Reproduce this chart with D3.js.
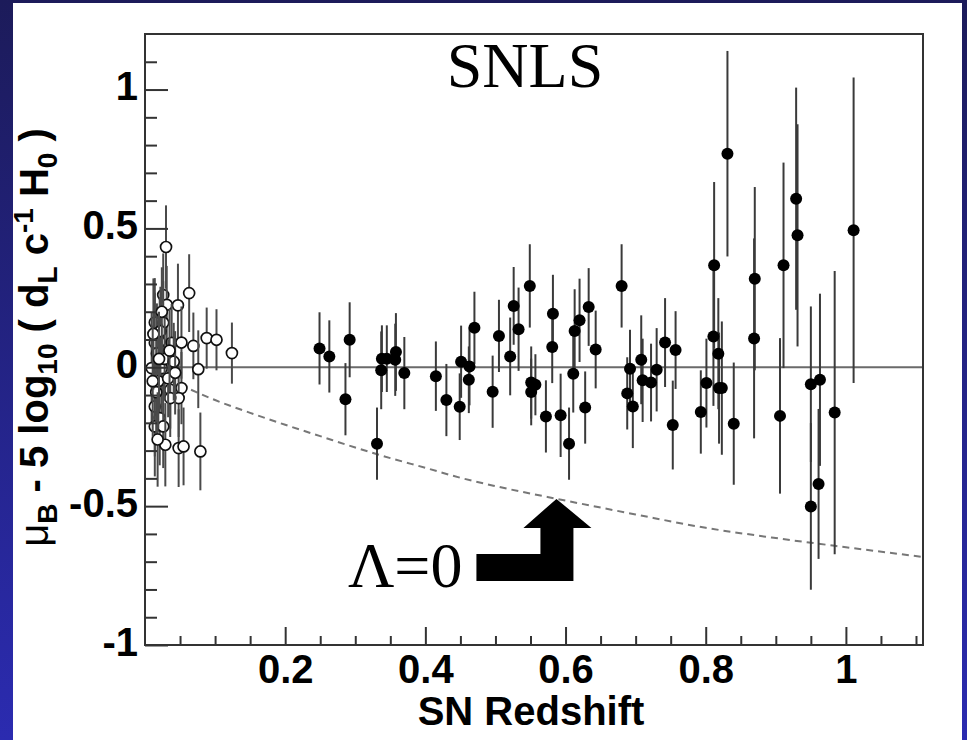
<!DOCTYPE html>
<html>
<head>
<meta charset="utf-8">
<script src="https://cdn.jsdelivr.net/npm/d3@7"></script>
<style>
  html, body { margin: 0; padding: 0; background: #fff; }
  svg { display: block; }
</style>
</head>
<body>
<svg id="chart" width="967" height="740"></svg>
<script>
// ---------- data ----------
// Low-redshift (nearby) supernovae, open circles
const lowZ   = [0.030, 0.063, 0.026, 0.047, 0.031, 0.014, 0.026, 0.021, 0.014, 0.038,
                0.052, 0.069, 0.088, 0.102, 0.124, 0.076, 0.0095, 0.024, 0.036, 0.052,
                0.048, 0.036, 0.014, 0.021, 0.014, 0.026, 0.029, 0.048, 0.055, 0.079,
                0.017, 0.019, 0.022, 0.016, 0.028, 0.033, 0.041, 0.012, 0.018, 0.024,
                0.043, 0.011, 0.020, 0.035];
const lowV   = [0.433, 0.267, 0.260, 0.223, 0.225, 0.161, 0.160, 0.092, 0.088, 0.088,
                0.089, 0.077, 0.105, 0.099, 0.051, -0.007, -0.003, -0.003, -0.081, -0.075,
                -0.111, -0.111, -0.141, -0.183, -0.213, -0.213, -0.279, -0.291, -0.285, -0.303,
                0.05, -0.05, 0.13, -0.09, 0.03, -0.04, 0.02, 0.12, -0.26, 0.20,
                -0.02, -0.05, 0.03, 0.06];
const lowErr = [0.15, 0.14, 0.15, 0.15, 0.14, 0.16, 0.15, 0.16, 0.18, 0.14,
                0.13, 0.12, 0.11, 0.11, 0.11, 0.14, 0.20, 0.16, 0.14, 0.13,
                0.14, 0.14, 0.18, 0.17, 0.18, 0.15, 0.15, 0.14, 0.14, 0.14,
                0.18, 0.17, 0.16, 0.19, 0.15, 0.14, 0.14, 0.20, 0.17, 0.16,
                0.15, 0.20, 0.17, 0.15];

// SNLS supernovae, filled circles
const snlsZ   = [0.249, 0.263, 0.292, 0.286, 0.331, 0.338, 0.345, 0.337, 0.358, 0.357,
                 0.370, 0.415, 0.430, 0.449, 0.451, 0.463, 0.462, 0.470, 0.496, 0.505,
                 0.521, 0.526, 0.533, 0.549, 0.551, 0.557, 0.551, 0.572, 0.582, 0.581,
                 0.593, 0.605, 0.611, 0.613, 0.620, 0.628, 0.633, 0.643, 0.680, 0.692,
                 0.688, 0.696, 0.708, 0.710, 0.722, 0.730, 0.742, 0.753, 0.757, 0.793,
                 0.801, 0.818, 0.819, 0.823, 0.840, 0.869, 0.906, 0.950, 0.963, 0.961,
                 0.950, 0.984, 0.831, 0.812, 0.811, 0.870, 0.911, 0.929, 0.931, 1.011];
const snlsV   = [0.068, 0.039, 0.099, -0.115, -0.275, 0.031, 0.031, -0.011, 0.055, 0.027,
                 -0.021, -0.032, -0.118, -0.142, 0.020, 0.003, -0.045, 0.142, -0.088, 0.113,
                 0.039, 0.221, 0.137, 0.293, -0.055, -0.063, -0.089, -0.177, 0.193, 0.073,
                 -0.173, -0.275, -0.023, 0.131, 0.169, -0.145, 0.217, 0.064, 0.293, -0.005,
                 -0.094, -0.141, 0.027, -0.047, -0.055, -0.009, 0.089, -0.208, 0.062, -0.161,
                 -0.057, 0.049, -0.075, -0.075, -0.203, 0.104, -0.175, -0.061, -0.045, -0.420,
                 -0.501, -0.163, 0.769, 0.367, 0.111, 0.319, 0.367, 0.607, 0.475, 0.493];
const snlsErr = [0.13, 0.13, 0.135, 0.13, 0.13, 0.12, 0.12, 0.14, 0.14, 0.13,
                 0.13, 0.125, 0.13, 0.12, 0.13, 0.14, 0.12, 0.13, 0.13, 0.13,
                 0.14, 0.14, 0.15, 0.15, 0.13, 0.11, 0.12, 0.13, 0.14, 0.13,
                 0.15, 0.13, 0.14, 0.15, 0.15, 0.13, 0.14, 0.14, 0.15, 0.14,
                 0.13, 0.15, 0.16, 0.15, 0.14, 0.15, 0.16, 0.16, 0.14, 0.15,
                 0.16, 0.20, 0.20, 0.24, 0.22, 0.36, 0.28, 0.28, 0.31, 0.27,
                 0.30, 0.51, 0.37, 0.30, 0.25, 0.33, 0.37, 0.40, 0.40, 0.55];

// Lambda = 0 model curve (dashed)
const curveZ = [0.05, 0.10, 0.15, 0.20, 0.25, 0.30, 0.35, 0.40, 0.45, 0.50,
                0.60, 0.70, 0.80, 0.90, 1.00, 1.11];
const curveV = [-0.063, -0.118, -0.164, -0.207, -0.248, -0.289, -0.327, -0.362, -0.398, -0.428,
                -0.480, -0.530, -0.578, -0.615, -0.648, -0.683];

// axis ticks
const xMajorTicks = [0.2, 0.4, 0.6, 0.8, 1];
const yMajorTicks = [-1, -0.5, 0, 0.5, 1];
const xMinorTicks = d3.range(0.05, 1.11, 0.05).filter(v => Math.abs(v * 5 - Math.round(v * 5)) > 1e-6);
const yMinorTicks = d3.range(-0.9, 1.15, 0.1).filter(v => Math.abs(v * 2 - Math.round(v * 2)) > 1e-6);

// annotation: arrow tip points at model curve
const arrowTip = { z: 0.587, v: -0.474 };

// ---------- drawing ----------
const svg = d3.select("#chart");
const W = 967, H = 740;
const plot = { left: 145, right: 923, top: 34, bottom: 645 };

const x = d3.scaleLinear().domain([0, 1.11]).range([plot.left, plot.right]);
const y = d3.scaleLinear().domain([-1, 1.2]).range([plot.bottom, plot.top]);

// background
const defs = svg.append("defs");
const grad = defs.append("linearGradient").attr("id", "bg").attr("x1", 0).attr("y1", 0).attr("x2", 0).attr("y2", 1);
grad.append("stop").attr("offset", "0%").attr("stop-color", "#1c1b5a");
grad.append("stop").attr("offset", "100%").attr("stop-color", "#2b2bb0");
svg.append("rect").attr("width", W).attr("height", H).attr("fill", "url(#bg)");
svg.append("rect").attr("x", 13).attr("y", 3).attr("width", 949).attr("height", H - 3).attr("fill", "#fff");

// model curve (dashed)
const line = d3.line().x((d, i) => x(curveZ[i])).y((d, i) => y(curveV[i])).curve(d3.curveMonotoneX);
svg.append("path").datum(curveZ).attr("d", line)
  .attr("fill", "none").attr("stroke", "#777").attr("stroke-width", 2).attr("stroke-dasharray", "7,5");

// zero line
svg.append("line").attr("x1", x(0)).attr("x2", x(1.11)).attr("y1", y(0)).attr("y2", y(0))
  .attr("stroke", "#6a6a6a").attr("stroke-width", 2);

// low-z points: bar then open marker, point by point
const lowG = svg.append("g").selectAll("g").data(lowZ).join("g");
lowG.append("line")
  .attr("x1", (d) => x(d)).attr("x2", (d) => x(d))
  .attr("y1", (d, i) => y(lowV[i] + lowErr[i])).attr("y2", (d, i) => y(lowV[i] - lowErr[i]))
  .attr("stroke", "#4a4a4a").attr("stroke-width", 2);
lowG.append("circle")
  .attr("cx", (d) => x(d)).attr("cy", (d, i) => y(lowV[i])).attr("r", 5.5)
  .attr("fill", "#fff").attr("stroke", "#111").attr("stroke-width", 1.7);

// SNLS points
svg.append("g").selectAll("line").data(snlsZ).join("line")
  .attr("x1", (d) => x(d)).attr("x2", (d) => x(d))
  .attr("y1", (d, i) => y(snlsV[i] + snlsErr[i])).attr("y2", (d, i) => y(snlsV[i] - snlsErr[i]))
  .attr("stroke", "#3a3a3a").attr("stroke-width", 2);
svg.append("g").selectAll("circle").data(snlsZ).join("circle")
  .attr("cx", (d) => x(d)).attr("cy", (d, i) => y(snlsV[i])).attr("r", 6)
  .attr("fill", "#000");

// axes
const fontSans = "'Liberation Sans', Arial, Helvetica, sans-serif";
const fmt = (d) => String(d);

const gx = svg.append("g").attr("transform", `translate(0,${plot.bottom})`);
gx.call(d3.axisBottom(x).tickValues(xMajorTicks).tickSize(-18).tickPadding(10).tickFormat(fmt));
const gxm = svg.append("g").attr("transform", `translate(0,${plot.bottom})`);
gxm.call(d3.axisBottom(x).tickValues(xMinorTicks).tickSize(-9).tickFormat(""));

const gy = svg.append("g").attr("transform", `translate(${plot.left},0)`);
gy.call(d3.axisLeft(y).tickValues(yMajorTicks).tickSize(-23).tickPadding(7).tickFormat(fmt));
const gym = svg.append("g").attr("transform", `translate(${plot.left},0)`);
gym.call(d3.axisLeft(y).tickValues(yMinorTicks).tickSize(-12).tickFormat(""));

[gx, gxm, gy, gym].forEach(g => {
  g.select(".domain").remove();
  g.selectAll(".tick line").attr("stroke", "#333").attr("stroke-width", 2);
  g.selectAll("text").attr("font-family", fontSans).attr("font-weight", "bold")
    .attr("font-size", 40).attr("fill", "#000");
});
gy.selectAll("text").attr("dy", "0.25em");

// frame
svg.append("rect").attr("x", plot.left).attr("y", plot.top)
  .attr("width", plot.right - plot.left).attr("height", plot.bottom - plot.top)
  .attr("fill", "none").attr("stroke", "#333").attr("stroke-width", 2);

// x title
svg.append("text").attr("x", (plot.left + plot.right) / 2 - 3).attr("y", 725)
  .attr("text-anchor", "middle").attr("font-family", fontSans).attr("font-weight", "bold")
  .attr("font-size", 40).text("SN Redshift");

// y title
const yt = svg.append("text")
  .attr("transform", `translate(48,${(plot.top + plot.bottom) / 2 - 2}) rotate(-90)`)
  .attr("text-anchor", "middle").attr("font-family", fontSans).attr("font-weight", "bold")
  .attr("font-size", 40).attr("fill", "#000");
const sub = 9, sup = -15, small = 28;
yt.append("tspan").attr("font-weight", "normal").text("\u03BC");
yt.append("tspan").attr("dy", sub).attr("font-size", small).text("B");
yt.append("tspan").attr("dy", -sub).text(" - 5 log");
yt.append("tspan").attr("dy", sub).attr("font-size", small).text("10");
yt.append("tspan").attr("dy", -sub).text(" ( d");
yt.append("tspan").attr("dy", sub).attr("font-size", small).text("L");
yt.append("tspan").attr("dy", -sub).text("  c");
yt.append("tspan").attr("dy", sup).attr("font-size", small).text("-1");
yt.append("tspan").attr("dy", -sup).text(" H");
yt.append("tspan").attr("dy", sub).attr("font-size", small).text("0");
yt.append("tspan").attr("dy", -sub).text(" )");

// SNLS label
const fontSerif = "'Liberation Serif', 'Times New Roman', serif";
svg.append("text").attr("x", 525).attr("y", 87).attr("text-anchor", "middle")
  .attr("font-family", fontSerif).attr("font-size", 64).text("SNLS");

// Lambda = 0 annotation
const tx = x(arrowTip.z), ty = y(arrowTip.v);
const arrowPts = [
  [tx, ty], [tx + 35, ty + 29], [tx + 17, ty + 29], [tx + 17, ty + 82],
  [tx - 80, ty + 82], [tx - 80, ty + 55], [tx - 16, ty + 55], [tx - 16, ty + 29], [tx - 33, ty + 29]
];
svg.append("polygon").attr("points", arrowPts.map(p => p.join(",")).join(" ")).attr("fill", "#000");
svg.append("text").attr("x", tx - 94).attr("y", ty + 88).attr("text-anchor", "end")
  .attr("font-family", fontSerif).attr("font-size", 64).text("\u039B=0");
</script>
</body>
</html>
